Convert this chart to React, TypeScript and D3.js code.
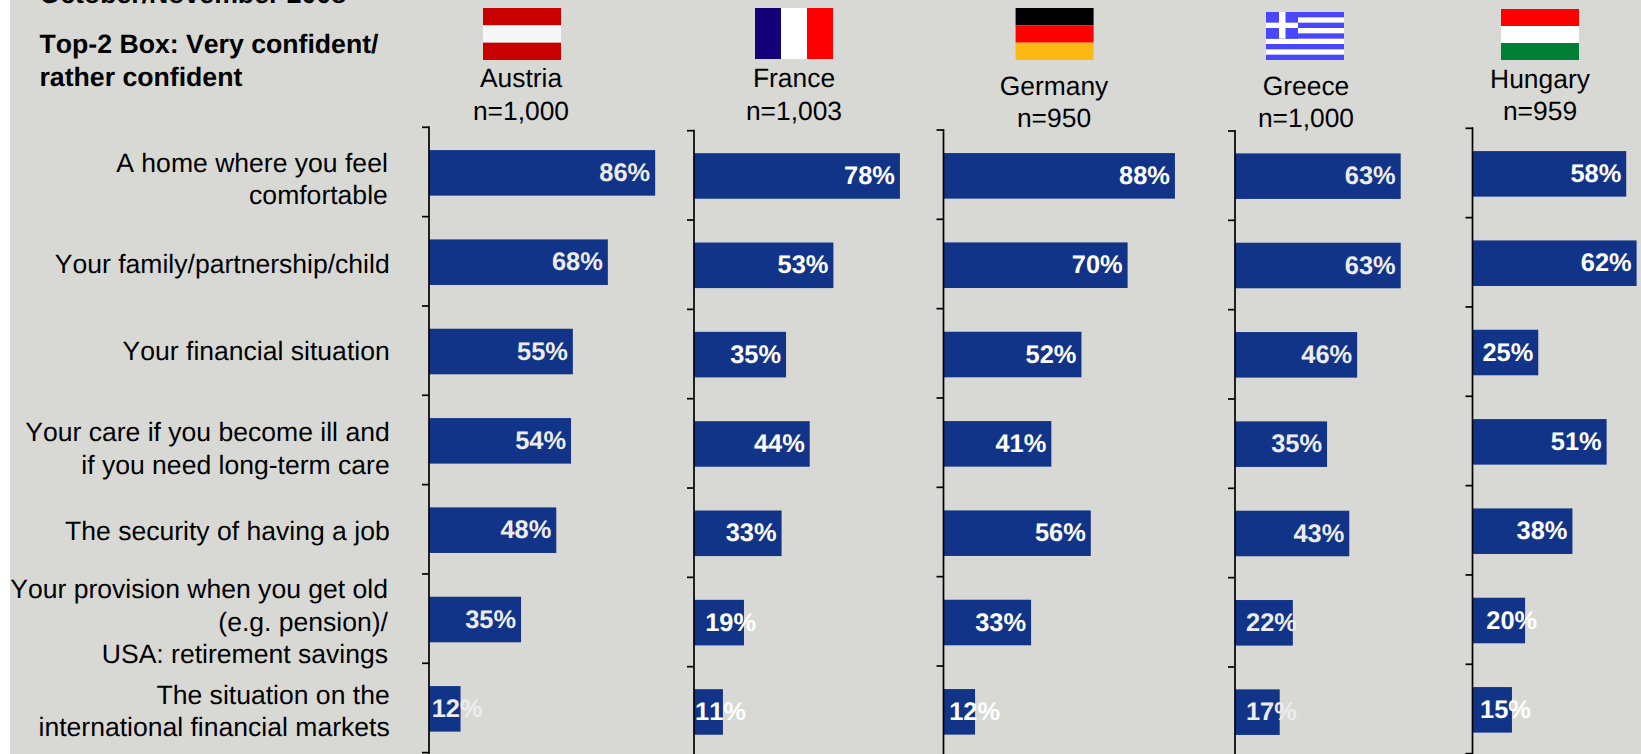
import React from "react";
import * as d3 from "d3";

// ---------- data ----------
const categories: string[][] = [
  ["A home where you feel", "comfortable"],
  ["Your family/partnership/child"],
  ["Your financial situation"],
  ["Your care if you become ill and", "if you need long-term care"],
  ["The security of having a job"],
  ["Your provision when you get old", "(e.g. pension)/", "USA: retirement savings"],
  ["The situation on the", "international financial markets"],
];
const countries = ["Austria", "France", "Germany", "Greece", "Hungary"];
const sampleSizes = ["n=1,000", "n=1,003", "n=950", "n=1,000", "n=959"];
const austria = [86, 68, 54.7, 54, 48.4, 35, 12];
const france = [78.3, 53, 35, 44, 33.3, 19, 11];
const germany = [88, 70, 52.45, 41, 56, 33.3, 12];
const greece = [63, 63, 46.45, 35, 43.45, 22, 17];
const hungary = [58.45, 62.4, 25, 51, 38, 20, 15];
const series = [austria, france, germany, greece, hungary];

const heading = ["Top-2 Box: Very confident/", "rather confident"];
const clippedHeading = "October/November 2008";

// ---------- layout ----------
const W = 1641;
const H = 754;
const FONT = "'Liberation Sans', Arial, sans-serif";
const BG = "#D8D9D5";
const BAR = "#123488";
const PX_PER_PCT = 2.63;
const STEP = 89.33;
const TEXT_STYLE: React.CSSProperties = { fontKerning: "none", textRendering: "geometricPrecision" };

const categoryBaselines = [
  [171.7, 203.6],
  [272.8],
  [360],
  [441, 473.5],
  [539.5],
  [598.3, 631, 663],
  [703.8, 735.7],
];
const categoryRight = [387.8, 389.7, 389.7, 389.7, 389.7, 388, 389.7];

interface Panel {
  axisX: number;
  axisTop: number;
  labelX: number;
  nameY: number;
  nY: number;
  barOffset: number;
  valueColor: string;
  overhang: number[]; // how far a value label's end sits past the bar end
}
const I = -5;
const panels: Panel[] = [
  { axisX: 429, axisTop: 127.3, labelX: 521, nameY: 87.3, nY: 120, barOffset: 0.9, valueColor: "#ECECEC", overhang: [I, I, I, I, I, I, 22] },
  { axisX: 694, axisTop: 130.7, labelX: 794, nameY: 87, nY: 119.5, barOffset: 0.6, valueColor: "#FFFFFF", overhang: [I, I, I, I, I, 12, 23] },
  { axisX: 943.5, axisTop: 130, labelX: 1054, nameY: 95, nY: 126.7, barOffset: 1.2, valueColor: "#FFFFFF", overhang: [I, I, I, I, I, -5, 25] },
  { axisX: 1235, axisTop: 131, labelX: 1306, nameY: 95, nY: 126.7, barOffset: 0.5, valueColor: "#ECECEC", overhang: [I, I, I, I, I, 4, 17] },
  { axisX: 1472.5, axisTop: 128.3, labelX: 1540, nameY: 88, nY: 120, barOffset: 0.9, valueColor: "#FFFFFF", overhang: [I, I, I, I, I, 12, 19] },
];

const x = d3.scaleLinear().domain([0, 100]).range([0, PX_PER_PCT * 100]);
const pct = d3.format(".0f");

const FLAG_W = 78;

function StripedFlag({ x: fx, y, h, colors, vertical }: { x: number; y: number; h: number; colors: string[]; vertical?: boolean }) {
  const band = d3.scaleBand<number>().domain(d3.range(colors.length)).range(vertical ? [0, FLAG_W] : [0, h]);
  return (
    <g transform={`translate(${fx},${y})`}>
      {colors.map((c, i) =>
        vertical ? (
          <rect key={i} x={band(i)} y={0} width={band.bandwidth()} height={h} fill={c} />
        ) : (
          <rect key={i} x={0} y={band(i)} width={FLAG_W} height={band.bandwidth()} fill={c} />
        )
      )}
    </g>
  );
}

function GreekFlag({ x: fx, y }: { x: number; y: number }) {
  const h = 48;
  const blue = "#4A46FF";
  const s = h / 9;
  return (
    <svg x={fx} y={y} width={FLAG_W} height={h} overflow="hidden">
      <defs>
        <filter id="soft" x="-5%" y="-5%" width="110%" height="110%">
          <feGaussianBlur stdDeviation="0.45" />
        </filter>
      </defs>
      <rect width={FLAG_W} height={h} fill={blue} />
      <g filter="url(#soft)">
        {d3.range(1, 9, 2).map((i) => (
          <rect key={i} x={0} y={i * s} width={FLAG_W} height={s} fill="#FFFFFF" />
        ))}
        <rect x={0} y={0} width={32} height={s * 5} fill={blue} />
        <rect x={13} y={0} width={6.5} height={s * 5} fill="#FFFFFF" />
        <rect x={0} y={s * 2} width={32} height={s} fill="#FFFFFF" />
      </g>
    </svg>
  );
}

function ChartPanel({ p, values, name, n }: { p: Panel; values: number[]; name: string; n: string }) {
  const y = d3
    .scaleBand<number>()
    .domain(d3.range(values.length))
    .range([p.axisTop, p.axisTop + STEP * values.length])
    .paddingInner(0.49)
    .paddingOuter(0.245);
  const ticks = d3.range(values.length + 1).map((i) => p.axisTop + i * y.step());
  return (
    <g fontFamily={FONT} style={TEXT_STYLE}>
      <text x={p.labelX} y={p.nameY} fontSize={26.4} fill="#000" textAnchor="middle">{name}</text>
      <text x={p.labelX} y={p.nY} fontSize={26.4} fill="#000" textAnchor="middle">{n}</text>
      {values.map((v, i) => {
        const barTop = (y(i) as number) + p.barOffset;
        const end = p.axisX + x(v);
        return (
          <g key={i}>
            <rect x={p.axisX} y={barTop} width={x(v)} height={y.bandwidth()} fill={BAR} />
            <text
              x={end + p.overhang[i]}
              y={barTop + y.bandwidth() / 2 + 8.2}
              fontSize={25.4}
              fontWeight="bold"
              fill={p.valueColor}
              textAnchor="end"
            >
              {pct(v)}%
            </text>
          </g>
        );
      })}
      <line x1={p.axisX} x2={p.axisX} y1={p.axisTop - 1} y2={H} stroke="#000" strokeWidth={1.7} />
      {ticks.map((t, i) => (
        <line key={i} x1={p.axisX - 7} x2={p.axisX} y1={t} y2={t} stroke="#000" strokeWidth={1.7} />
      ))}
    </g>
  );
}

export default function App() {
  React.useEffect(() => {
    document.body.style.margin = "0";
    document.body.style.background = "#fff";
  }, []);
  return (
    <svg width={W} height={H} viewBox={`0 0 ${W} ${H}`} style={{ position: "absolute", left: 0, top: 0, display: "block" }}>
      <rect x={0} y={0} width={W} height={H} fill="#FFFFFF" />
      <rect x={10} y={0} width={W - 10} height={H} fill={BG} />

      <g fontFamily={FONT} fontWeight="bold" fontSize={26.65} fill="#000" style={TEXT_STYLE}>
        <text x={39.5} y={2.5}>{clippedHeading}</text>
        <text x={39.5} y={53.3}>{heading[0]}</text>
        <text x={39.5} y={85.7}>{heading[1]}</text>
      </g>

      <g fontFamily={FONT} fontSize={26.55} fill="#000" textAnchor="end" style={TEXT_STYLE}>
        {categories.map((lines, i) =>
          lines.map((line, j) => (
            <text key={`${i}-${j}`} x={categoryRight[i]} y={categoryBaselines[i][j]}>{line}</text>
          ))
        )}
      </g>

      <StripedFlag x={483} y={8} h={52} colors={["#C80000", "#F7F7F7", "#C80000"]} />
      <StripedFlag x={755} y={8} h={51} colors={["#140078", "#FFFFFF", "#FF0000"]} vertical />
      <StripedFlag x={1015.6} y={8} h={52} colors={["#000000", "#FF0000", "#FFB914"]} />
      <GreekFlag x={1266} y={12} />
      <StripedFlag x={1501} y={9} h={51} colors={["#FF0000", "#FFFFFF", "#008037"]} />

      {panels.map((p, i) => (
        <ChartPanel key={countries[i]} p={p} values={series[i]} name={countries[i]} n={sampleSizes[i]} />
      ))}
    </svg>
  );
}
